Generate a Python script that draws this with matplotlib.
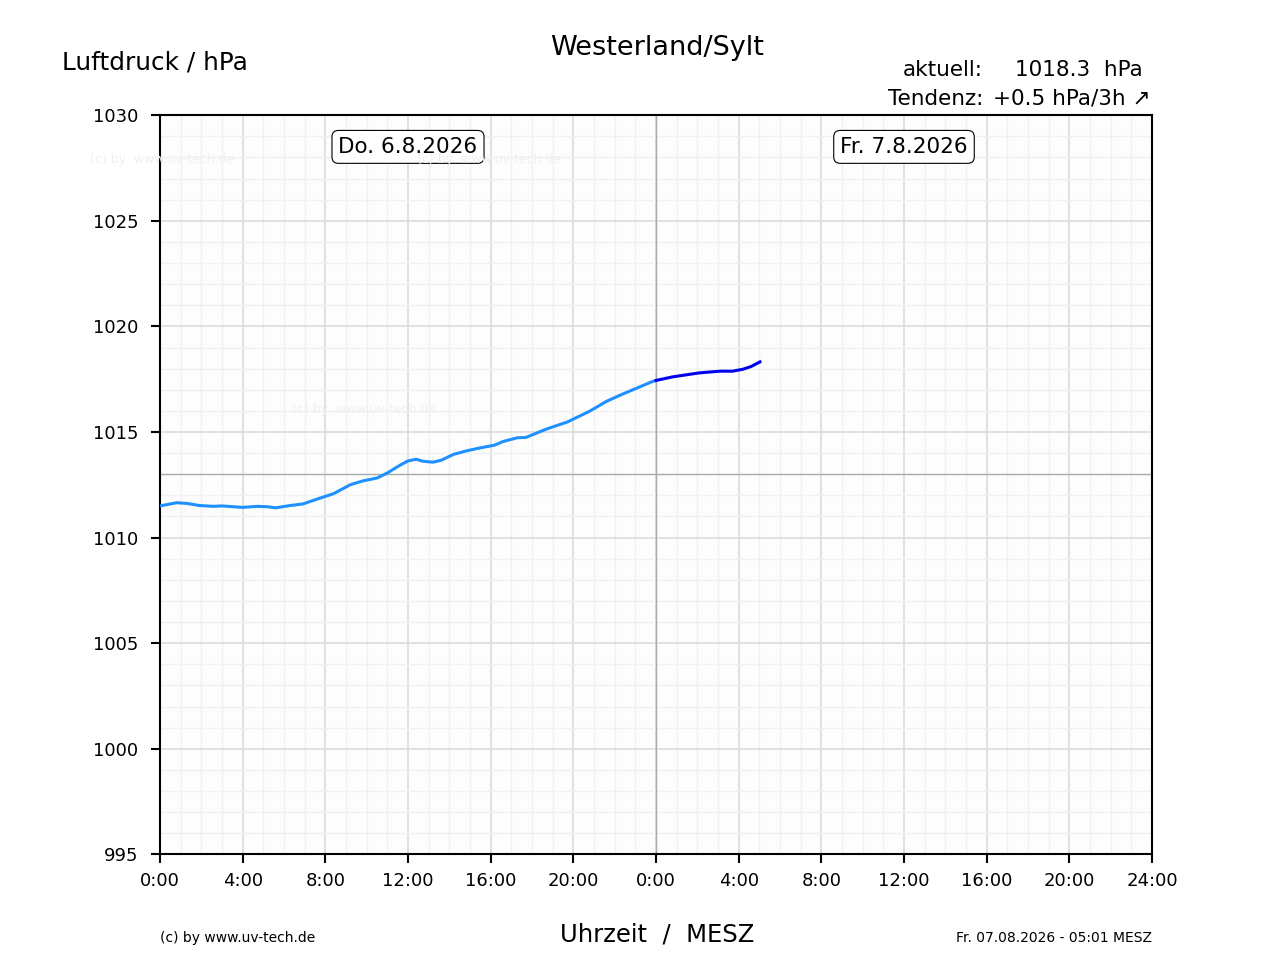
import matplotlib
matplotlib.use('Agg')
import matplotlib.pyplot as plt
import numpy as np
from matplotlib.ticker import MultipleLocator

# Luftdruck Westerland/Sylt, Stunden ab Do. 0:00
hours_old = [0.0, 0.8, 1.3, 1.9, 2.6, 3.0, 4.0, 4.7, 5.2, 5.6, 6.3, 6.9, 7.9, 8.4,
             9.2, 9.8, 10.5, 11.0, 11.6, 12.0, 12.4, 12.7, 13.2, 13.6, 14.2, 14.8,
             15.5, 16.2, 16.6, 17.3, 17.7, 18.7, 19.7, 20.8, 21.6, 22.3, 23.2, 23.8, 24.0]
press_old = [1011.50, 1011.65, 1011.62, 1011.52, 1011.48, 1011.50, 1011.43, 1011.48,
             1011.46, 1011.41, 1011.52, 1011.59, 1011.92, 1012.08, 1012.50, 1012.68,
             1012.82, 1013.06, 1013.42, 1013.63, 1013.71, 1013.62, 1013.57, 1013.66,
             1013.94, 1014.10, 1014.25, 1014.38, 1014.55, 1014.73, 1014.74, 1015.14,
             1015.47, 1015.99, 1016.45, 1016.76, 1017.13, 1017.38, 1017.44]
hours_new = [24.0, 24.8, 26.1, 27.1, 27.7, 28.2, 28.6, 29.03]
press_new = [1017.44, 1017.61, 1017.80, 1017.88, 1017.88, 1017.97, 1018.10, 1018.32]

xtick_pos = list(range(0, 49, 4))
xtick_labels = ['0:00', '4:00', '8:00', '12:00', '16:00', '20:00',
                '0:00', '4:00', '8:00', '12:00', '16:00', '20:00', '24:00']
day_labels = ['Do. 6.8.2026', 'Fr. 7.8.2026']
day_centers = [12, 36]

fig = plt.figure(figsize=(12.8, 9.6), dpi=100)
ax = fig.add_subplot(111)
ax.set_facecolor('#fdfdfd')

# watermarks
for (wx, wy) in [(90, 160), (417, 160), (292, 410)]:
    fig.text(wx / 1280, 1 - wy / 960, '(c) by  www.uv-tech.de', fontsize=9,
             color='#f0f0f0', ha='left', va='center', zorder=0)

ax.plot(hours_old, press_old, color='#1e90ff', lw=2.2, zorder=5)
ax.plot(hours_new, press_new, color='#0000ee', lw=2.2, zorder=6)

ax.set_xlim(0, 48)
ax.set_ylim(995, 1030)
ax.set_xticks(xtick_pos)
ax.set_xticklabels(xtick_labels)
ax.set_yticks(range(995, 1031, 5))
ax.xaxis.set_minor_locator(MultipleLocator(1))
ax.yaxis.set_minor_locator(MultipleLocator(1))
ax.grid(which='major', color='#dcdcdc', lw=1.2, zorder=1)
ax.grid(which='minor', color='#f1f1f1', lw=1.0, zorder=1)
ax.tick_params(which='major', labelsize=13, length=6.5, width=1.5)
ax.tick_params(axis='x', which='major', pad=6)
ax.tick_params(axis='y', which='major', pad=9)
ax.tick_params(which='minor', length=0)
for s in ax.spines.values():
    s.set_linewidth(1.5)
ax.set_axisbelow(True)

ax.axhline(1013, color='#aaaaaa', lw=1, zorder=2)
ax.axvline(24, color='#aaaaaa', lw=1, zorder=2)

for c, lab in zip(day_centers, day_labels):
    ax.text(c, 1028.5, lab, fontsize=15.5, ha='center', va='center', zorder=7,
            bbox=dict(boxstyle='round,pad=0.3', fc='white', ec='black', lw=0.8))

fig.text(657 / 1280, 1 - 48 / 960, 'Westerland/Sylt', fontsize=19.5, ha='center', va='center')
fig.text(62 / 1280, 1 - 63 / 960, 'Luftdruck / hPa', fontsize=17.8, ha='left', va='center')
fig.text(983 / 1280, 1 - 70 / 960, 'aktuell:', fontsize=15.5, ha='right', va='center')
fig.text(1015 / 1280, 1 - 70 / 960, '1018.3  hPa', fontsize=15.5, ha='left', va='center')
fig.text(983 / 1280, 1 - 99 / 960, 'Tendenz:', fontsize=15.5, ha='right', va='center')
fig.text(993 / 1280, 1 - 99 / 960, '+0.5 hPa/3h \u2197', fontsize=15.5, ha='left', va='center')

fig.text(657 / 1280, 1 - 935 / 960, 'Uhrzeit  /  MESZ', fontsize=17.5, ha='center', va='center')
fig.text(160 / 1280, 1 - 938 / 960, '(c) by www.uv-tech.de', fontsize=10, ha='left', va='center')
fig.text(1152 / 1280, 1 - 938 / 960, 'Fr. 07.08.2026 - 05:01 MESZ', fontsize=10,
         ha='right', va='center')

fig.savefig('out.png', dpi=100)
